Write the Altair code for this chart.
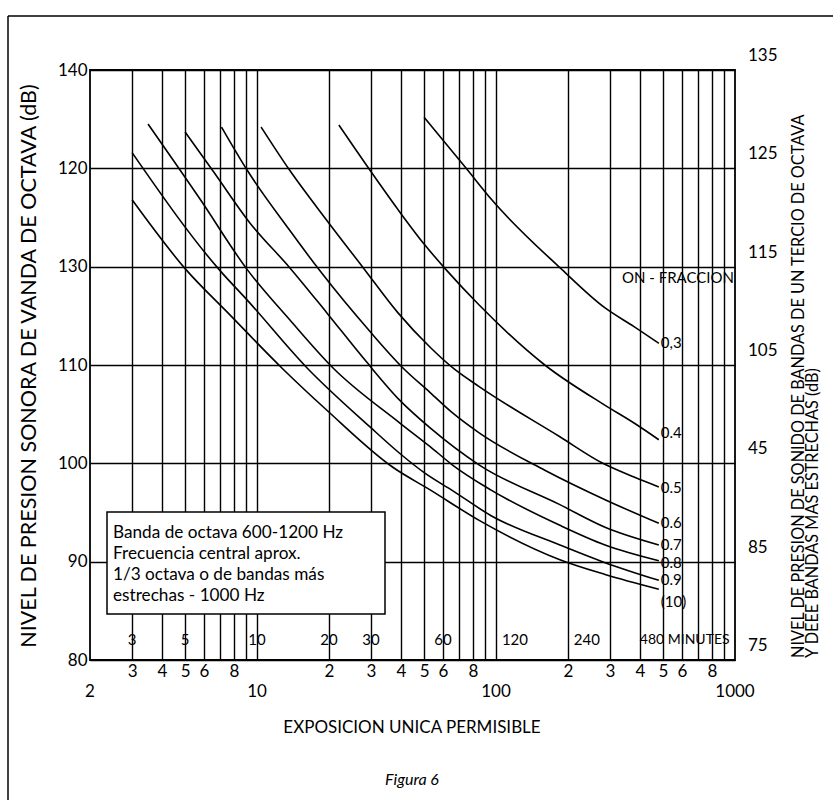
import altair as alt
import pandas as pd

# ---- curve data (x = exposure, y = dB on left scale) ----
c03_x = [50, 75, 96, 185, 286, 378, 480]
c03_y = [135.2, 130.0, 126.8, 119.9, 115.8, 113.9, 112.2]
c04_x = [22, 29.7, 38.9, 50, 62.3, 85, 160, 286, 378, 480]
c04_y = [134.4, 129.8, 125.8, 122.3, 119.6, 116.1, 110.0, 105.9, 104.1, 102.4]
c05_x = [10.4, 13.7, 19.6, 27.8, 38.9, 53, 66, 85, 185, 280, 378, 480]
c05_y = [134.2, 129.8, 124.7, 119.9, 115.3, 111.8, 109.7, 107.8, 102.7, 100.0, 98.6, 97.6]
c06_x = [7.1, 9.1, 13.7, 18.3, 29.7, 40.8, 53, 66, 85, 160, 286, 480]
c06_y = [134.2, 129.8, 123.7, 119.6, 113.4, 109.7, 107.2, 105.1, 103.1, 99.3, 96.3, 93.9]
c07_x = [5, 6.6, 9.3, 13.7, 19.6, 28.3, 39.6, 53, 85.5, 185, 286, 480]
c07_y = [133.7, 129.6, 124.5, 119.9, 115.3, 110.5, 106.4, 103.6, 99.8, 95.8, 93.5, 91.7]
c08_x = [3.5, 5.8, 9.1, 13.7, 20.8, 39.6, 53, 66, 95, 185, 286, 480]
c08_y = [134.5, 126.8, 119.7, 114.6, 109.7, 104.1, 101.7, 99.8, 97.3, 93.7, 91.7, 90.1]
c09_x = [3, 7, 9.1, 16.2, 29.7, 39.6, 50.4, 66, 95, 185, 286, 480]
c09_y = [131.6, 119.6, 116.6, 109.7, 103.7, 101.0, 99.0, 97.2, 94.7, 91.7, 89.9, 88.1]
c10_x = [3, 5, 7.7, 12.7, 19.6, 37, 53, 85, 185, 286, 480]
c10_y = [126.8, 119.8, 115.1, 109.7, 105.4, 99.6, 97.3, 94.2, 90.2, 88.7, 87.2]

curve_names = ["0.3", "0.4", "0.5", "0.6", "0.7", "0.8", "0.9", "1.0"]
curve_xs = [c03_x, c04_x, c05_x, c06_x, c07_x, c08_x, c09_x, c10_x]
curve_ys = [c03_y, c04_y, c05_y, c06_y, c07_y, c08_y, c09_y, c10_y]

# end labels of curves
end_label_text = ["0,3", "0.4", "0.5", "0.6", "0.7", "0.8", "0.9", "(10)"]
end_label_x = [480, 480, 480, 480, 480, 480, 480, 480]
end_label_y = [112.2, 103.1, 97.5, 93.9, 91.7, 89.9, 88.1, 85.9]

# left axis
left_tick_values = [80, 90, 100, 110, 120, 130, 140]
left_tick_labels = ["80", "90", "100", "110", "130", "120", "140"]
# right axis
right_tick_values = [80, 90, 100, 110, 120, 130, 140]
right_tick_labels = ["75", "85", "45", "105", "115", "125", "135"]

# bottom axis (minor row)
x_grid_values = [3, 4, 5, 6, 7, 8, 9, 10, 20, 30, 40, 50, 60, 70, 80, 90,
                 100, 200, 300, 400, 500, 600, 700, 800, 900]
x_grid_labels = ["3", "4", "5", "6", "", "8", "", "", "2", "3", "4", "5", "6", "", "8", "",
                 "", "2", "3", "4", "5", "6", "", "8", ""]
# bottom axis (decade row)
decade_values = [2, 10, 100, 1000]
decade_labels = ["2", "10", "100", "1000"]

# minute labels inside plot
minute_values = [3, 5, 10, 20, 30, 60, 120, 240]
minute_labels = ["3", "5", "10", "20", "30", "60", "120", "240"]
last_minute_value = [480]
last_minute_label = ["480 MINUTES"]

box_lines = "Banda de octava 600-1200 Hz\nFrecuencia central aprox.\n1/3 octava o de bandas más\nestrechas - 1000 Hz"

FONT = "Lato"

rows = []
for name, xs, ys in zip(curve_names, curve_xs, curve_ys):
    for xv, yv in zip(xs, ys):
        rows.append({"curve": name, "t": xv, "db": yv})
df = pd.DataFrame(rows)

xscale = alt.Scale(type="log", domain=[2, 1000], nice=False)
yscale = alt.Scale(domain=[80, 140], nice=False, zero=False)


def arr_js(a):
    return "[" + ",".join("'" + s + "'" if isinstance(s, str) else str(s) for s in a) + "]"


x_label_expr = arr_js(x_grid_labels) + "[indexof(" + arr_js(x_grid_values) + ", datum.value)]"
y_label_expr = arr_js(left_tick_labels) + "[indexof(" + arr_js(left_tick_values) + ", datum.value)]"

x_axis = alt.Axis(
    values=x_grid_values, grid=True, gridColor="black", gridWidth=1.4, gridOpacity=1,
    ticks=False, domain=False, labelExpr=x_label_expr, labelFontSize=17,
    labelPadding=3, labelColor="black", labelFont=FONT, title=None,
    labelFlush=False, labelOverlap=False, labelBound=False)
y_axis = alt.Axis(
    values=left_tick_values, grid=True, gridColor="black", gridWidth=1.4, gridOpacity=1,
    ticks=False, domain=False, labelExpr=y_label_expr, labelFontSize=17,
    labelPadding=3, labelColor="black", labelFont=FONT, title=None,
    labelOverlap=False, labelBound=False)


def X(field="t:Q"):
    return alt.X(field, scale=xscale, axis=x_axis)


def Y(field="db:Q"):
    return alt.Y(field, scale=yscale, axis=y_axis)


curves = alt.Chart(df).mark_line(color="black", strokeWidth=1.6, interpolate="monotone").encode(
    x=X(), y=Y(), detail="curve:N")

end_df = pd.DataFrame({"t": end_label_x, "db": end_label_y, "lab": end_label_text})
end_labels = alt.Chart(end_df).mark_text(align="left", baseline="middle", dx=2, fontSize=15,
                                          font=FONT, color="black").encode(
    x=X(), y=Y(), text="lab:N")

right_df = pd.DataFrame({"db": right_tick_values, "lab": right_tick_labels})
right_labels = alt.Chart(right_df).mark_text(align="left", baseline="middle", dy=-14, fontSize=17,
                                              font=FONT, color="black").encode(
    x=alt.value(658), y=Y(), text="lab:N")

dec_df = pd.DataFrame({"t": decade_values, "lab": decade_labels})
decade_text = alt.Chart(dec_df).mark_text(align="center", baseline="middle", fontSize=17,
                                           font=FONT, color="black").encode(
    x=X(), y=alt.value(622), text="lab:N")

min_df = pd.DataFrame({"t": minute_values, "lab": minute_labels})
minute_text = alt.Chart(min_df).mark_text(align="center", baseline="middle", fontSize=15,
                                           font=FONT, color="black").encode(
    x=X(), y=alt.value(570), text="lab:N")

last_df = pd.DataFrame({"t": last_minute_value, "lab": last_minute_label})
last_minute_text = alt.Chart(last_df).mark_text(align="left", baseline="middle", dx=-19, fontSize=14,
                                                 font=FONT, color="black").encode(
    x=X(), y=alt.value(570), text="lab:N")

one = pd.DataFrame({"k": [0]})

box = alt.Chart(one).mark_rect(fill="white", stroke="black", strokeWidth=1.5).encode(
    x=alt.value(17), x2=alt.value(295), y=alt.value(442), y2=alt.value(544))
box_text = alt.Chart(one).mark_text(align="left", baseline="top", fontSize=17.2, font=FONT,
                                     color="black", lineBreak="\n", lineHeight=21).encode(
    x=alt.value(23), y=alt.value(454), text=alt.value(box_lines))

fraction_text = alt.Chart(one).mark_text(align="right", baseline="middle", fontSize=15, font=FONT,
                                          color="black").encode(
    x=alt.value(644), y=alt.value(208), text=alt.value("ON - FRACCION"))

left_title = alt.Chart(one).mark_text(angle=270, align="center", baseline="middle", fontSize=21.5,
                                       font=FONT, color="black").encode(
    x=alt.value(-60), y=alt.value(296),
    text=alt.value("NIVEL DE PRESION SONORA DE VANDA DE OCTAVA  (dB)"))

right_title1 = alt.Chart(one).mark_text(angle=270, align="left", baseline="middle", fontSize=16.3,
                                         font=FONT, color="black").encode(
    x=alt.value(709), y=alt.value(588),
    text=alt.value("NIVEL DE PRESION DE SONIDO DE BANDAS DE UN TERCIO DE OCTAVA"))
right_title2 = alt.Chart(one).mark_text(angle=270, align="left", baseline="middle", fontSize=16.3,
                                         font=FONT, color="black").encode(
    x=alt.value(723), y=alt.value(588),
    text=alt.value("Y DEEE BANDAS MAS ESTRECHAS  (dB)"))

x_title = alt.Chart(one).mark_text(align="center", baseline="middle", fontSize=17, font=FONT,
                                    color="black").encode(
    x=alt.value(322), y=alt.value(658), text=alt.value("EXPOSICION UNICA PERMISIBLE"))

fig_caption = alt.Chart(one).mark_text(align="center", baseline="middle", fontSize=16, font=FONT,
                                        fontStyle="italic", color="black").encode(
    x=alt.value(322), y=alt.value(710), text=alt.value("Figura 6"))

frame_left = alt.Chart(one).mark_rule(color="black", strokeWidth=1.5).encode(
    x=alt.value(-82), y=alt.value(-54), y2=alt.value(740))
frame_top = alt.Chart(one).mark_rule(color="black", strokeWidth=1.5).encode(
    x=alt.value(-82), x2=alt.value(745), y=alt.value(-54))

chart = alt.layer(
    curves, end_labels, right_labels, decade_text, minute_text, last_minute_text,
    box, box_text, fraction_text, left_title, right_title1, right_title2,
    x_title, fig_caption, frame_left, frame_top,
).properties(
    width=645, height=590,
    autosize=alt.AutoSizeParams(type="none"),
    padding={"left": 90, "top": 70, "right": 98, "bottom": 140},
    background="white",
).configure_view(stroke="black", strokeWidth=1.8).configure_text(font=FONT)

chart.save("out.html", embed_options={"renderer": "svg", "actions": False})
